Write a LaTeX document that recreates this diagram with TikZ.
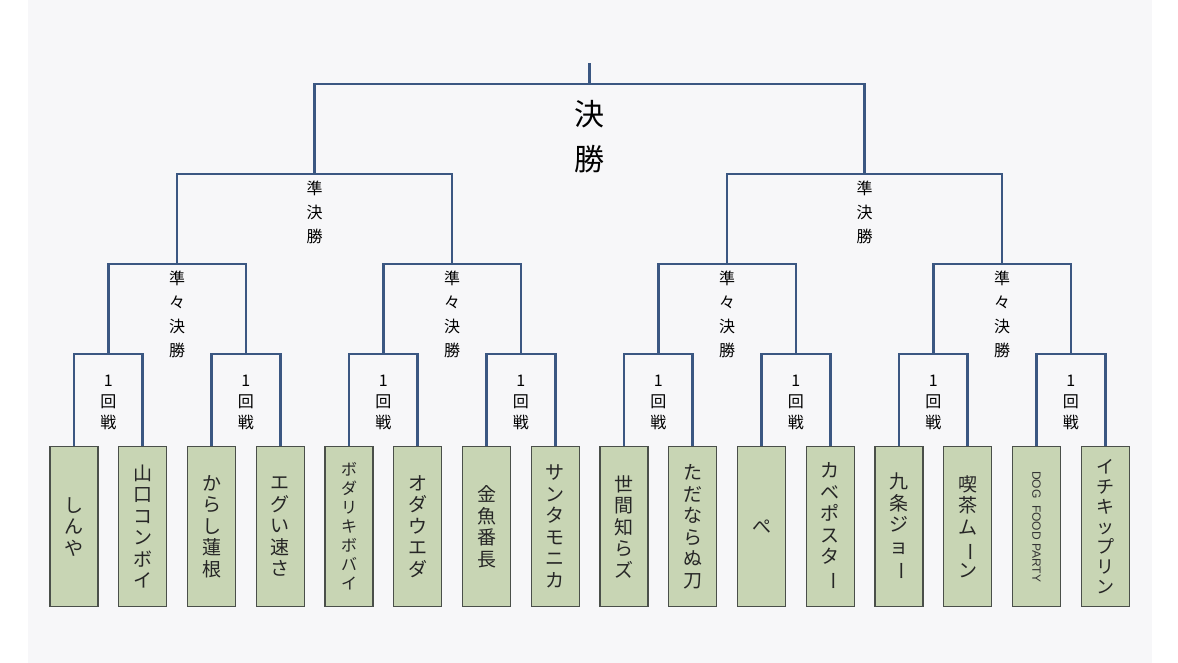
\documentclass[tikz,border=0pt]{standalone}
\usepackage{fontspec}
\usetikzlibrary{calc}
\newfontfamily\cjk{Noto Sans CJK JP}
\usepackage{graphicx}
\definecolor{bg}{HTML}{F7F7F9}
\definecolor{ln}{HTML}{3B5782}
\definecolor{bx}{HTML}{C8D5B4}
\definecolor{bd}{HTML}{4A4F4A}
\newcommand{\cho}{\rotatebox[origin=c]{-90}{ー}}
\begin{document}
\begin{tikzpicture}[x=1pt,y=-1pt,
  entry/.style={draw=bd,line width=1.2pt,fill=bx,minimum width=48pt,minimum height=160pt,text height=,text depth=,anchor=north,inner sep=0pt,align=center,font=\cjk\fontsize{19}{21.5}\selectfont,text=black!85},
  br/.style={draw=ln,line width=2.6pt},
  lab/.style={align=center,inner sep=0pt,font=\cjk\fontsize{16}{21}\selectfont}]
\useasboundingbox (0,0) rectangle (1178,663);
\fill[white] (0,0) rectangle (1178,663);
\fill[bg] (28,0) rectangle (1152,663);
% boxes
\foreach \i/\t in {0/{し\\ん\\や},1/{山\\口\\コ\\ン\\ボ\\イ},2/{か\\ら\\し\\蓮\\根},3/{エ\\グ\\い\\速\\さ},
  5/{オ\\ダ\\ウ\\エ\\ダ},6/{金\\魚\\番\\長},7/{サ\\ン\\タ\\モ\\ニ\\カ},8/{世\\間\\知\\ら\\ズ},9/{た\\だ\\な\\ら\\ぬ\\刀},
  10/{ぺ},11/{カ\\ベ\\ポ\\ス\\タ\\\cho},12/{九\\条\\ジ\\ョ\\\cho},13/{喫\\茶\\ム\\\cho\\ン}}
  {\node[entry] (b\i) at ({74+68.75*\i},446) {\t};}
\node[entry,font=\cjk\fontsize{16}{19}\selectfont] (b4) at ({74+68.75*4},446) {ボ\\ダ\\リ\\キ\\ボ\\バ\\イ};
\node[entry,font=\cjk\fontsize{18}{20}\selectfont] (b15) at ({74+68.75*15},446) {イ\\チ\\キ\\ッ\\プ\\リ\\ン};
\node[entry] (b14) at ({74+68.75*14},446) {};
\node[rotate=-90,font=\fontspec{Liberation Sans}\fontsize{12}{14}\selectfont,text=black!80] (b14t) at (b14.center) {DOG\ \ FOOD PARTY};
% round 1
\foreach \p in {0,...,7}{
  \pgfmathtruncatemacro{\a}{2*\p}\pgfmathtruncatemacro{\b}{2*\p+1}
  \draw[br] (b\a.north) -- ++(0,-92) coordinate (t\a) -| (b\b.north) coordinate[pos=0.25] (r\p);
  \node[lab] (l1\p) at ($(r\p)+(0,48)$) {1\\回\\戦};
}
% quarterfinals
\foreach \p in {0,...,3}{
  \pgfmathtruncatemacro{\a}{2*\p}\pgfmathtruncatemacro{\b}{2*\p+1}
  \draw[br] (r\a) -- ++(0,-90) -| (r\b) coordinate[pos=0.25] (q\p);
  \node[lab,font=\cjk\fontsize{16}{24}\selectfont] (l2\p) at ($(q\p)+(0,50)$) {準\\々\\決\\勝};
}
% semifinals
\foreach \p in {0,1}{
  \pgfmathtruncatemacro{\a}{2*\p}\pgfmathtruncatemacro{\b}{2*\p+1}
  \draw[br] (q\a) -- ++(0,-90) -| (q\b) coordinate[pos=0.25] (s\p);
  \node[lab,font=\cjk\fontsize{16}{24}\selectfont] (l3\p) at ($(s\p)+(0,38)$) {準\\決\\勝};
}
\draw[br] (s0) -- ++(0,-90) -| (s1) coordinate[pos=0.25] (f);
\coordinate (top) at ($(f)+(0,-21)$);
\draw[br] (f) -- (top);
\node[lab,font=\cjk\fontsize{30}{45}\selectfont] (l4) at ($(f)+(0,53)$) {決\\勝};
\end{tikzpicture}
\end{document}
